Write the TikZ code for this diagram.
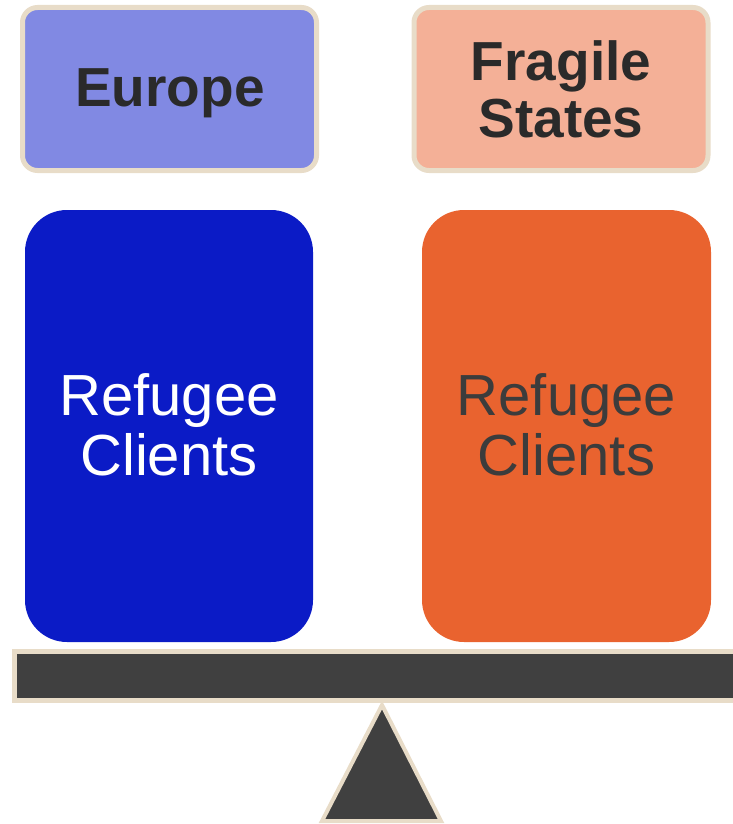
\documentclass[tikz,border=0pt]{standalone}
\usepackage{fontspec}
\setmainfont{Liberation Sans}
\definecolor{eurofill}{HTML}{8189E3}
\definecolor{fragfill}{HTML}{F4B097}
\definecolor{bluebox}{HTML}{0B1BC6}
\definecolor{orangebox}{HTML}{E9632F}
\definecolor{beam}{HTML}{404040}
\definecolor{rim}{HTML}{E8DCC8}
\definecolor{darktext}{HTML}{2A2A2A}
\definecolor{midtext}{HTML}{3C3C3C}
\begin{document}
\begin{tikzpicture}[x=1pt,y=-1pt,
  header/.style={draw=rim,line width=5pt,rounded corners=15pt,inner sep=0pt,
    font=\fontsize{55}{57}\selectfont\bfseries,text=darktext,align=center},
  bigbox/.style={rounded corners=42pt,inner sep=0pt,
    font=\fontsize{58}{60}\selectfont,align=center}]
\useasboundingbox (0,0) rectangle (732,824);
\node[header,fill=eurofill,minimum width=294pt,minimum height=163pt] (eu) at (169.5,89) {};
\node[font=\fontsize{55}{57}\selectfont\bfseries,text=darktext] (eut) at (170,93) {Europe};
\node[header,fill=fragfill,minimum width=294pt,minimum height=163pt] (fs) at (561,89) {Fragile\\States};
\node[bigbox,fill=bluebox,minimum width=288pt,minimum height=432pt] (rl) at (169,426) {};
\node[font=\fontsize{58}{60}\selectfont,align=center,text=white] (rlt) at (169,425) {Refugee\\Clients};
\node[bigbox,fill=orangebox,minimum width=289pt,minimum height=432pt] (rr) at (566.5,426) {};
\node[font=\fontsize{58}{60}\selectfont,align=center,text=midtext] (rrt) at (566.5,425) {Refugee\\Clients};
\path[draw=rim,line width=5pt,fill=beam] (14.5,651) rectangle (745,700);
\coordinate (apex) at (382,705);
\path[draw=rim,line width=4pt,fill=beam,line join=miter] (apex) -- (441,821) -- (322,821) -- cycle;
\end{tikzpicture}
\end{document}
